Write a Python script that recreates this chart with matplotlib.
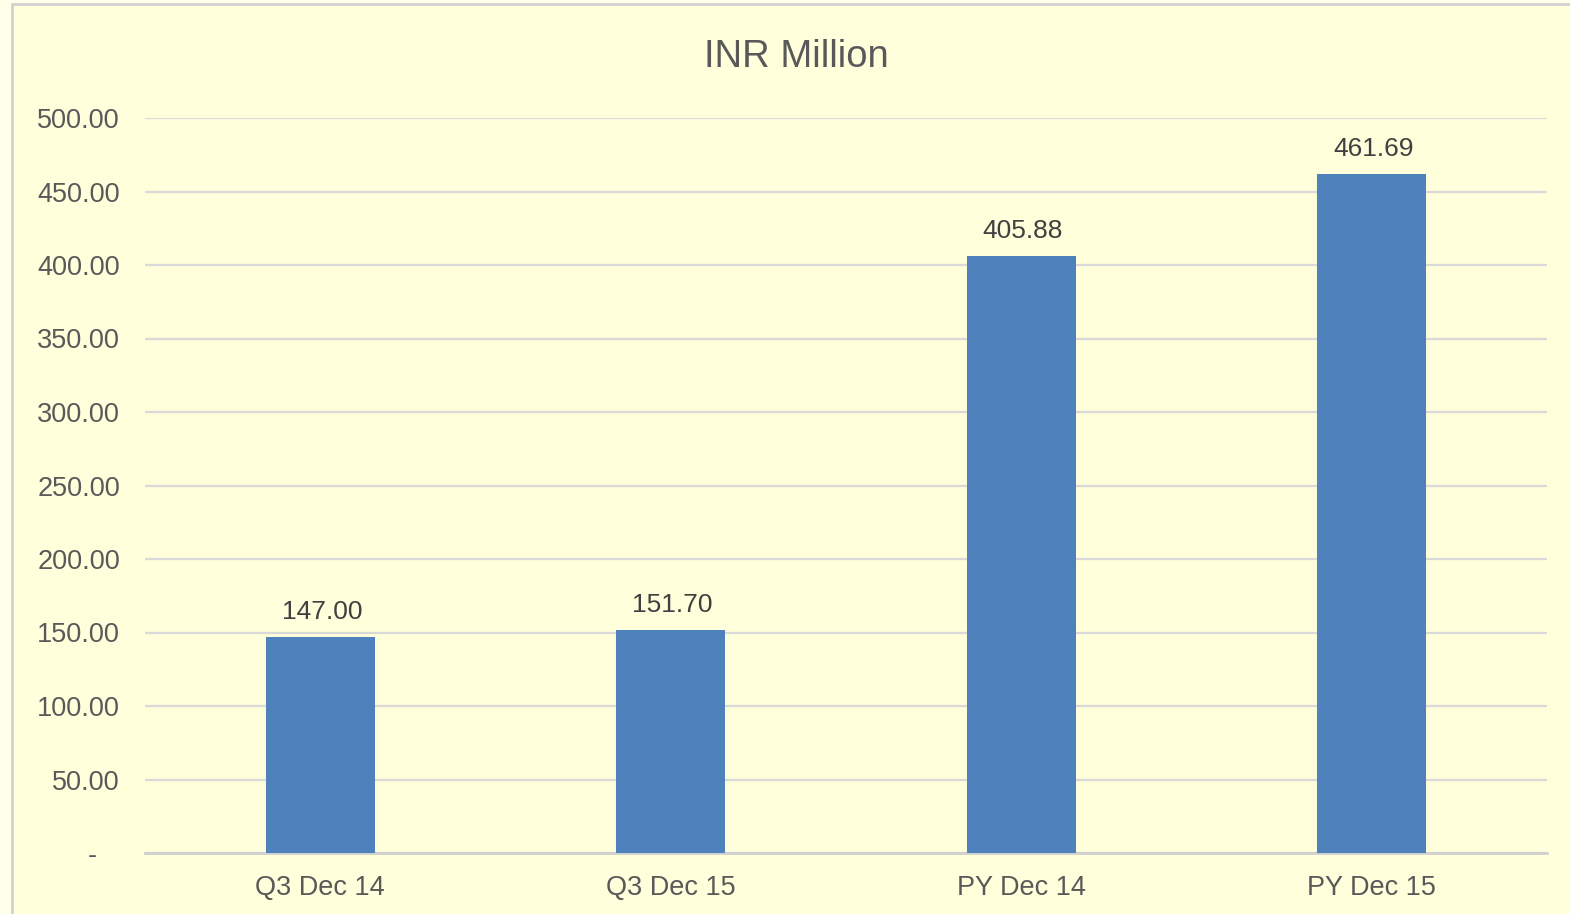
import matplotlib.pyplot as plt
from matplotlib.patches import Rectangle

plt.rcParams["font.family"] = ["Liberation Sans", "DejaVu Sans"]

# data
categories = ["Q3 Dec 14", "Q3 Dec 15", "PY Dec 14", "PY Dec 15"]
values = [147.00, 151.70, 405.88, 461.69]
yticks = [0, 50, 100, 150, 200, 250, 300, 350, 400, 450, 500]
ytick_labels = ["-   "] + [f"{v:.2f}" for v in yticks[1:]]

fig = plt.figure(figsize=(15.7, 9.14), dpi=100)
fig.patch.set_facecolor("#FFFFEA")

# chart area with grey border (drawn behind the axes)
frame = Rectangle((12 / 1570, -0.05), 1.1, (914 - 4) / 914 + 0.05,
                  transform=fig.transFigure, facecolor="#FFFFDC",
                  edgecolor="#D0D0D0", linewidth=2, zorder=-5)
fig.patches.append(frame)

ax = fig.add_axes([145 / 1570, 61 / 914, 1402 / 1570, 735 / 914])
ax.set_zorder(1)
ax.set_facecolor("none")

x = range(len(categories))
ax.bar(x, values, width=0.31, color="#4F81BD", zorder=3)
for xi, v in zip(x, values):
    ax.text(xi + 0.005, v + 9, f"{v:.2f}", ha="center", va="bottom",
            fontsize=19, color="#404040")

ax.set_xlim(-0.5, 3.5)
ax.set_ylim(0, 500)
ax.set_yticks(yticks)
ax.set_yticklabels(ytick_labels)
ax.set_xticks(list(x))
ax.set_xticklabels(categories)
ax.tick_params(axis="both", length=0, labelsize=19.5, labelcolor="#595959")
ax.tick_params(axis="y", pad=18)
ax.tick_params(axis="x", pad=16)

ax.grid(axis="y", color="#D9D9D9", linewidth=1.6, zorder=1)
ax.set_axisbelow(True)
for s in ["top", "right", "left"]:
    ax.spines[s].set_visible(False)
ax.spines["bottom"].set_color("#D0D0D0")
ax.spines["bottom"].set_linewidth(2)

fig.text(796 / 1570, 1 - 57 / 914, "INR Million", ha="center", va="center",
         fontsize=27.5, color="#595959", zorder=2)

fig.savefig("out.png", dpi=100, facecolor=fig.get_facecolor())
